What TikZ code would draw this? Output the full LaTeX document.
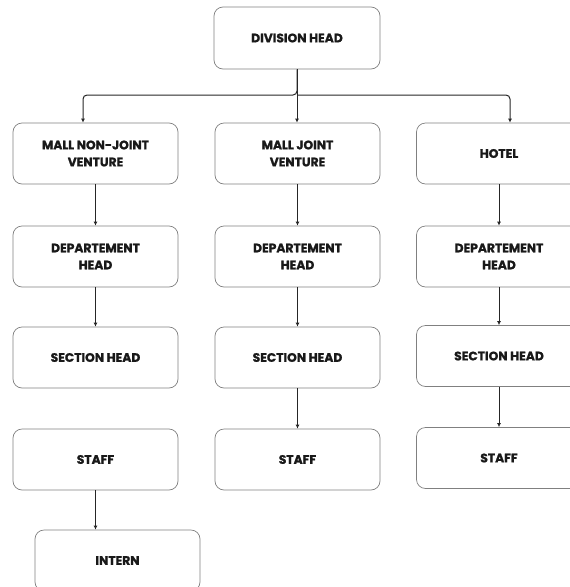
\documentclass[tikz,border=0pt]{standalone}
\usepackage{fontspec}
\setmainfont{Poppins}[BoldFeatures={FakeBold=1.3}]
\usetikzlibrary{arrows.meta}
\begin{document}
\begin{tikzpicture}[x=1pt,y=-1pt,
  box/.style={draw=black!50, line width=0.7pt, rounded corners=9pt, minimum width=165pt, minimum height=61pt, inner sep=0pt, align=center, font=\fontsize{12.3}{17}\selectfont\bfseries, text=black!90},
  conn/.style={draw=black!85, line width=1pt, -{Latex[length=4pt,width=4pt]}}
]
\clip (0,0) rectangle (570,587);
\useasboundingbox (0,0) rectangle (570,587);
\node[box, minimum width=166pt, minimum height=62pt] (dh) at (297,38) {DIVISION HEAD};
\node[box] (mnj) at (95.5,153.5) {MALL NON-JOINT\\VENTURE};
\node[box] (mj) at (297.5,153.5) {MALL JOINT\\VENTURE};
\node[box] (ho) at (499,153.5) {HOTEL};
\node[box] (d1) at (95.5,256.5) {DEPARTEMENT\\HEAD};
\node[box] (d2) at (297.5,256.5) {DEPARTEMENT\\HEAD};
\node[box] (d3) at (499,256.5) {DEPARTEMENT\\HEAD};
\node[box] (s1) at (95.5,357.5) {SECTION HEAD};
\node[box] (s2) at (297.5,357.5) {SECTION HEAD};
\node[box] (s3) at (499,356) {SECTION HEAD};
\node[box] (t1) at (95.5,459.5) {STAFF};
\node[box] (t2) at (297.5,459.5) {STAFF};
\node[box] (t3) at (499,458) {STAFF};
\node[box] (in) at (117.5,560.5) {INTERN};
\coordinate (bus) at (297,95);
\coordinate (lx) at (83,0);
\coordinate (rx) at (510,0);
\draw[conn] (dh.south) -- (dh.south |- mj.north);
\draw[conn, rounded corners=4pt] (dh.south) |- (bus) -| (lx |- mnj.north);
\draw[conn, rounded corners=4pt] (bus) -| (rx |- ho.north);
\draw[conn] (mnj) -- (d1);
\draw[conn] (d1) -- (s1);
\draw[conn] (t1.south) -- (t1.south |- in.north);
\draw[conn] (mj) -- (d2);
\draw[conn] (d2) -- (s2);
\draw[conn] (s2) -- (t2);
\draw[conn] (ho.south) -- (ho.south |- d3.north);
\draw[conn] (d3.south) -- (d3.south |- s3.north);
\draw[conn] (s3.south) -- (s3.south |- t3.north);
\end{tikzpicture}
\end{document}
